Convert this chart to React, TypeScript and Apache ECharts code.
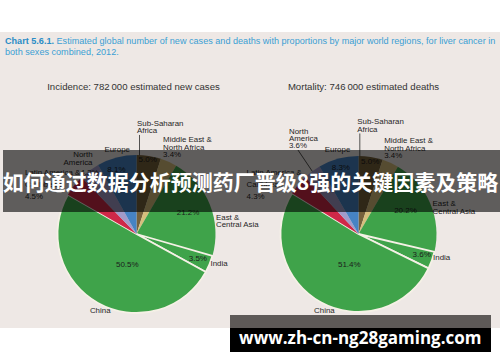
import React, { useEffect, useRef } from 'react';
import * as echarts from 'echarts';

// ---------- data ----------
const regions = [
  'Sub-Saharan\nAfrica',
  'Middle East &\nNorth Africa',
  'East &\nCentral Asia',
  'India',
  'China',
  'Latin America &\nCaribbean',
  'North\nAmerica',
  'Europe',
];
const incidenceShare = [5.0, 3.4, 21.2, 3.5, 50.5, 4.5, 4.2, 8.1];
const mortalityShare = [5.0, 3.4, 20.2, 3.6, 51.4, 4.3, 3.6, 8.3];
const incidencePctInName = [false, true, false, false, false, true, false, false];
const mortalityPctInName = [false, true, false, false, false, true, true, false];
const incidenceTitle = 'Incidence: 782\u2009000 estimated new cases';
const mortalityTitle = 'Mortality: 746\u2009000 estimated deaths';
const captionBold = 'Chart 5.6.1.';
const captionLine1 =
  ' Estimated global number of new cases and deaths with proportions by major world regions, for liver cancer in';
const captionLine2 = 'both sexes combined, 2012.';
const overlayText = '如何通过数据分析预测药厂晋级8强的关键因素及策略';
const watermarkText = 'www.zh-cn-ng28gaming.com';

// ---------- styles / layout ----------
const FONT = '"Liberation Sans", Arial, Helvetica, sans-serif';
const SLICE_COLORS = ['#76613b', '#d6bf7c', '#3fa34a', '#3fa34a', '#3fa34a', '#cf2848', '#a29bc9', '#4683c4'];
const SLICE_BORDER = [0, 0, 0, 1.8, 1.8, 0, 0, 0];

type PctSpec = [number, number, number] | null;
type NameSpec = {
  align: 'left' | 'center' | 'right';
  va: 'top' | 'middle' | 'bottom';
  dx: number;
  dy: number;
  line?: 'vertical' | 'edge';
  lh?: number;
};
type PieLayout = { cx: number; cy: number; r: number; pct: PctSpec[]; names: NameSpec[] };

const incidenceLayout: PieLayout = {
  cx: 136.5,
  cy: 234,
  r: 79,
  pct: [[0.95, -0.5, -0.5], null, [0.71, -0.5, -1], [0.84, 0, -1], [0.42, 7, 2], null, [0.98, -1, 1], [0.86, -3, 1]],
  names: [
    { align: 'left', va: 'bottom', dx: -11.8, dy: -21.5, line: 'vertical' },
    { align: 'left', va: 'bottom', dx: -5.6, dy: -3.6 },
    { align: 'left', va: 'middle', dx: 6.2, dy: 16.4 },
    { align: 'left', va: 'middle', dx: 1, dy: -1.1 },
    { align: 'center', va: 'middle', dx: 2.3, dy: 7.7 },
    { align: 'left', va: 'middle', dx: -49.1, dy: -0.6, lh: 12 },
    { align: 'right', va: 'bottom', dx: 3.1, dy: -4.6 },
    { align: 'center', va: 'middle', dx: 0.5, dy: -8.5 },
  ],
};

const mortalityLayout: PieLayout = {
  cx: 358.5,
  cy: 234,
  r: 78,
  pct: [[0.95, 0, 0.5], null, [0.67, -1, -2.8], [0.86, 0, -2], [0.42, 6.6, 2.3], null, null, [0.876, 0, 0]],
  names: [
    { align: 'left', va: 'bottom', dx: -13.4, dy: -24, line: 'vertical' },
    { align: 'left', va: 'bottom', dx: -6.2, dy: -3.4 },
    { align: 'left', va: 'middle', dx: 2.4, dy: 4.3 },
    { align: 'left', va: 'middle', dx: 1.1, dy: -2.6 },
    { align: 'center', va: 'middle', dx: 3.5, dy: 8.4 },
    { align: 'left', va: 'middle', dx: -51.6, dy: 0.4, lh: 12 },
    { align: 'left', va: 'bottom', dx: -23.2, dy: -21.7, line: 'edge' },
    { align: 'center', va: 'middle', dx: -0.8, dy: -8.7 },
  ],
};

function midAngles(values: number[]): number[] {
  const total = values.reduce((a, b) => a + b, 0);
  let cum = 0;
  return values.map((v) => {
    const m = ((cum + v / 2) / total) * Math.PI * 2;
    cum += v;
    return m;
  });
}

function buildPie(values: number[], pctInName: boolean[], L: PieLayout) {
  const mids = midAngles(values);
  const sliceSeries = {
    type: 'pie',
    center: [L.cx, L.cy],
    radius: L.r,
    startAngle: 90,
    clockwise: true,
    silent: true,
    avoidLabelOverlap: false,
    data: values.map((v, i) => ({
      value: v,
      name: regions[i],
      itemStyle: {
        color: SLICE_COLORS[i],
        borderColor: '#f5f1e6',
        borderWidth: SLICE_BORDER[i],
      },
      label: { show: L.pct[i] != null },
    })),
    label: {
      show: true,
      position: 'inside',
      formatter: (p: any) => `${Number(p.value).toFixed(1)}%`,
      fontFamily: FONT,
      fontSize: 8,
      color: '#1c1c1c',
    },
    labelLine: { show: false },
    labelLayout: (p: any) => {
      const s = L.pct[p.dataIndex];
      if (!s) return {};
      const a = mids[p.dataIndex];
      return {
        x: L.cx + L.r * s[0] * Math.sin(a) + s[1],
        y: L.cy - L.r * s[0] * Math.cos(a) + s[2],
        align: 'center',
        verticalAlign: 'middle',
      };
    },
  };
  const nameSeries = {
    type: 'pie',
    center: [L.cx, L.cy],
    radius: L.r,
    startAngle: 90,
    clockwise: true,
    silent: true,
    avoidLabelOverlap: false,
    itemStyle: { color: 'rgba(0,0,0,0)' },
    data: values.map((v, i) => ({
      value: v,
      name: regions[i],
      labelLine: { show: !!L.names[i].line },
      label: L.names[i].lh ? { lineHeight: L.names[i].lh } : {},
    })),
    label: {
      show: true,
      position: 'outside',
      formatter: (p: any) =>
        p.name + (pctInName[p.dataIndex] ? `\n${Number(p.value).toFixed(1)}%` : ''),
      fontFamily: FONT,
      fontSize: 7.9,
      lineHeight: 7.4,
      color: '#262626',
    },
    labelLine: { show: false, length: 4, length2: 4, lineStyle: { color: '#2a2a2a', width: 0.8 } },
    labelLayout: (p: any) => {
      const i = p.dataIndex;
      const s = L.names[i];
      const a = mids[i];
      const ex = L.cx + L.r * Math.sin(a);
      const ey = L.cy - L.r * Math.cos(a);
      const x = ex + s.dx;
      const y = ey + s.dy;
      const out: any = { x, y, align: s.align, verticalAlign: s.va };
      if (s.line === 'vertical') {
        const lx = x + 2.5;
        const ly = L.cy - Math.sqrt(L.r * L.r - (lx - L.cx) * (lx - L.cx)) + 2;
        out.labelLinePoints = [
          [lx, y + 0.5],
          [lx, ly],
        ];
      } else if (s.line === 'edge') {
        out.labelLinePoints = [
          [x + 9, y + 0.5],
          [L.cx + L.r * 0.98 * Math.sin(a), L.cy - L.r * 0.98 * Math.cos(a)],
        ];
      }
      return out;
    },
  };
  return [sliceSeries, nameSeries];
}

export default function App() {
  const ref = useRef<HTMLDivElement>(null);
  useEffect(() => {
    if (!ref.current) return;
    const chart = echarts.init(ref.current, undefined, { renderer: 'svg' });
    chart.setOption({
      animation: false,
      backgroundColor: '#ffffff',
      series: [
        ...buildPie(incidenceShare, incidencePctInName, incidenceLayout),
        ...buildPie(mortalityShare, mortalityPctInName, mortalityLayout),
      ],
      graphic: [
        {
          type: 'rect',
          z: -10,
          silent: true,
          shape: { x: 0, y: 32, width: 500, height: 296 },
          style: { fill: '#eee8e5' },
        },
        {
          type: 'text',
          x: 5,
          y: 41,
          silent: true,
          style: {
            text: `{b|${captionBold}}{n|${captionLine1}}`,
            verticalAlign: 'middle',
            rich: {
              b: { fontFamily: FONT, fontSize: 9.1, fontWeight: 'bold', fill: '#2a8cc6' },
              n: { fontFamily: FONT, fontSize: 9.1, fill: '#3b9fd4' },
            },
          },
        },
        {
          type: 'text',
          x: 5,
          y: 51.5,
          silent: true,
          style: {
            text: captionLine2,
            fontFamily: FONT,
            fontSize: 9.1,
            fill: '#3b9fd4',
            verticalAlign: 'middle',
          },
        },
        {
          type: 'text',
          x: 133.5,
          y: 86,
          silent: true,
          style: {
            text: incidenceTitle,
            fontFamily: FONT,
            fontSize: 9.6,
            fill: '#333333',
            align: 'center',
            verticalAlign: 'middle',
          },
        },
        {
          type: 'text',
          x: 363.5,
          y: 86,
          silent: true,
          style: {
            text: mortalityTitle,
            fontFamily: FONT,
            fontSize: 9.6,
            fill: '#333333',
            align: 'center',
            verticalAlign: 'middle',
          },
        },
        {
          type: 'rect',
          z: 100,
          silent: true,
          shape: { x: 3, y: 150, width: 497, height: 62 },
          style: { fill: 'rgba(0,0,0,0.6)' },
        },
        {
          type: 'text',
          z: 101,
          x: 250.5,
          y: 181,
          silent: true,
          style: {
            text: overlayText,
            fontFamily: '"Noto Sans CJK SC", sans-serif',
            fontSize: 21,
            fontWeight: 'bold',
            fill: '#ffffff',
            align: 'center',
            verticalAlign: 'middle',
          },
        },
        {
          type: 'rect',
          z: 100,
          silent: true,
          shape: { x: 230, y: 315, width: 261, height: 13 },
          style: { fill: '#5e5a58' },
        },
        {
          type: 'rect',
          z: 100,
          silent: true,
          shape: { x: 230, y: 328, width: 261, height: 24 },
          style: { fill: '#000000' },
        },
        {
          type: 'text',
          z: 101,
          x: 360.3,
          y: 337,
          silent: true,
          style: {
            text: watermarkText,
            fontFamily: '"Open Sans", sans-serif',
            fontSize: 17,
            fontWeight: 'bold',
            fill: '#ffffff',
            align: 'center',
            verticalAlign: 'middle',
          },
        },
      ],
    });
    return () => chart.dispose();
  }, []);
  return <div ref={ref} style={{ position: 'absolute', left: 0, top: 0, width: 500, height: 362 }} />;
}
